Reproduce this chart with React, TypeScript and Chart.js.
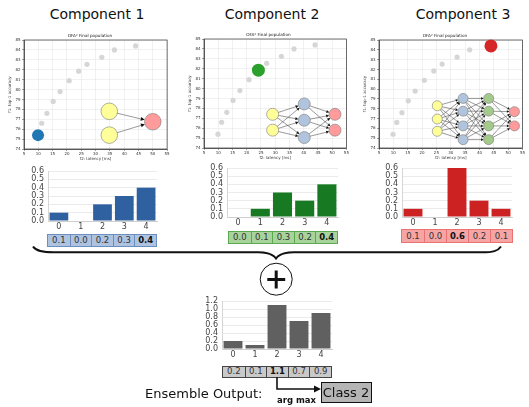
import React, { useEffect, useRef } from "react";
import { Chart, registerables } from "chart.js";

Chart.register(...registerables);

// ---------------- data ----------------
const componentNames = ["Component 1", "Component 2", "Component 3"];
const scatterTitle = "OFA² Final population";
const latencyTitle = "f2: latency [ms]";
const accuracyTitle = "f1: top-1 accuracy";

const populationLatency = [9.9, 11.2, 13.0, 15.2, 17.6, 20.8, 24.1, 27.0, 32.2, 36.6, 44.0];
const populationAccuracy = [75.4, 76.6, 77.6, 78.8, 79.8, 80.9, 81.85, 82.55, 83.25, 84.0, 84.4];
const selectedIndex = [0, 6, 10];

// network sketches drawn inside the scatter plots (x in latency units, y in accuracy units)
const net1LayerX = [34.8, 50.0];
const net1LayerY = [[77.8, 75.4], [76.75]];
const net2LayerX = [29.1, 40.2, 51.0];
const net2LayerY = [[77.4, 75.8], [78.45, 76.8, 75.05], [77.4, 75.8]];
const net3LayerX = [25.3, 34.3, 43.2, 52.2];
const net3LayerY = [
  [78.3, 76.95, 75.7],
  [79.05, 77.75, 76.25, 74.85],
  [79.05, 77.75, 76.25, 74.85],
  [77.7, 76.25],
];

const classLabels = ["0", "1", "2", "3", "4"];
const comp1Probs = [0.1, 0.0, 0.2, 0.3, 0.4];
const comp2Probs = [0.0, 0.1, 0.3, 0.2, 0.4];
const comp3Probs = [0.1, 0.0, 0.6, 0.2, 0.1];
const ensembleSums = [0.2, 0.1, 1.1, 0.7, 0.9];

const ensembleOutputLabel = "Ensemble Output:";
const argmaxLabel = "arg max";
const predictedClass = "Class 2";

// ---------------- styles ----------------
const FONT = "'DejaVu Sans', sans-serif";
Chart.defaults.font.family = FONT;

const highlightColors = ["#1f77b4", "#2ca02c", "#d62728"];
const YELLOW = "#ffff99";
const PINK = "#ff9b9b";
const NODE_BLUE = "#b0c4de";
const NODE_GREEN = "#a3c98b";
const net1Colors = [YELLOW, PINK];
const net2Colors = [YELLOW, NODE_BLUE, PINK];
const net3Colors = [YELLOW, NODE_BLUE, NODE_GREEN, PINK];

const barColors = ["#2f609f", "#177a23", "#cc2222", "#606060"];
const cellFill = ["#aec3e0", "#a8d49b", "#f6a5a5", "#c9c9c9"];
const cellBorder = ["#6c8ebf", "#5aa84f", "#ea7272", "#444444"];

type Area = { l: number; t: number; r: number; b: number };

const scatterAreas: Area[] = [
  { l: 24, t: 40, r: 172, b: 149 },
  { l: 204, t: 39, r: 349, b: 148 },
  { l: 379, t: 40, r: 527, b: 148 },
];
const nodeRadius = [8.3, 6, 5];
const highlightRadius = [6, 6.5, 6.5];
const arrowSize = [4, 3, 2.6];

const barAreas: Area[] = [
  { l: 48, t: 171, r: 157, b: 221 },
  { l: 227, t: 168, r: 338, b: 217 },
  { l: 402, t: 168, r: 512, b: 217 },
  { l: 222, t: 300.5, r: 332, b: 349.3 },
];
const tableBoxes = [
  { l: 47, t: 234, w: 110, h: 12.5 },
  { l: 228, t: 231, w: 110, h: 13.3 },
  { l: 401, t: 229.3, w: 112, h: 14 },
  { l: 222, t: 365.5, w: 110, h: 12 },
];

// ---------------- helpers ----------------
const fixWidth = (w: number) => (scale: any) => {
  scale.width = w;
  scale.paddingTop = 0;
  scale.paddingBottom = 0;
  scale.paddingLeft = 0;
  scale.paddingRight = 0;
};
const fixHeight = (h: number) => (scale: any) => {
  scale.height = h;
  scale.paddingTop = 0;
  scale.paddingBottom = 0;
  scale.paddingLeft = 0;
  scale.paddingRight = 0;
};

const framePlugin = {
  id: "frame",
  beforeDatasetsDraw(chart: any) {
    const { ctx, chartArea: a } = chart;
    ctx.save();
    ctx.strokeStyle = "#333";
    ctx.lineWidth = 0.7;
    ctx.strokeRect(a.left, a.top, a.right - a.left, a.bottom - a.top);
    ctx.restore();
  },
};

function networkEdges(layerX: number[], layerY: number[][], radius: number, arrow: number) {
  return {
    id: "netEdges",
    beforeDatasetsDraw(chart: any) {
      const { ctx } = chart;
      const xs = chart.scales.x;
      const ys = chart.scales.y;
      ctx.save();
      for (let i = 0; i < layerX.length - 1; i++) {
        for (const ya of layerY[i]) {
          for (const yb of layerY[i + 1]) {
            const x0 = xs.getPixelForValue(layerX[i]);
            const y0 = ys.getPixelForValue(ya);
            const x1 = xs.getPixelForValue(layerX[i + 1]);
            const y1 = ys.getPixelForValue(yb);
            const ang = Math.atan2(y1 - y0, x1 - x0);
            const c = Math.cos(ang);
            const s = Math.sin(ang);
            const tx = x1 - c * radius;
            const ty = y1 - s * radius;
            const bx = tx - c * arrow;
            const by = ty - s * arrow;
            ctx.strokeStyle = "#555";
            ctx.lineWidth = 0.6;
            ctx.beginPath();
            ctx.moveTo(x0, y0);
            ctx.lineTo(bx, by);
            ctx.stroke();
            const w = arrow * 0.5;
            ctx.fillStyle = "#111";
            ctx.beginPath();
            ctx.moveTo(tx, ty);
            ctx.lineTo(bx + s * w, by - c * w);
            ctx.lineTo(bx - s * w, by + c * w);
            ctx.closePath();
            ctx.fill();
          }
        }
      }
      ctx.restore();
    },
  };
}

// scatter geometry
const SC_ML = 16;
const SC_PT = 10;
const SC_MB = 12;
const SC_PB = 1;
const SC_TITLE_SIZE = 4.2;
const SC_TITLE_H = SC_TITLE_SIZE * 1.2 + 2;

function scatterBox(i: number) {
  const a = scatterAreas[i];
  const pr = i === 2 ? 2 : 4;
  return {
    left: a.l - SC_ML,
    top: a.t - SC_PT,
    width: SC_ML + (a.r - a.l) + pr,
    height: SC_PT + (a.b - a.t) + SC_MB + SC_PB,
    pr,
  };
}

function makeScatter(i: number, layerX: number[], layerY: number[][], colors: string[]) {
  const box = scatterBox(i);
  const sel = selectedIndex[i];
  const popPoints = populationLatency
    .map((x, k) => ({ x, y: populationAccuracy[k], k }))
    .filter((p) => p.k !== sel)
    .map((p) => ({ x: p.x, y: p.y }));
  const datasets: any[] = [
    {
      label: "selected",
      data: [{ x: populationLatency[sel], y: populationAccuracy[sel] }],
      pointRadius: highlightRadius[i],
      pointBackgroundColor: highlightColors[i],
      pointBorderWidth: 0,
      clip: false,
      order: 0,
    },
  ];
  layerX.forEach((lx, li) => {
    datasets.push({
      label: "layer" + li,
      data: layerY[li].map((y) => ({ x: lx, y })),
      pointRadius: nodeRadius[i],
      pointBackgroundColor: colors[li],
      pointBorderColor: "#7a7a7a",
      pointBorderWidth: 0.6,
      clip: false,
      order: 1,
    });
  });
  datasets.push({
    label: "population",
    data: popPoints,
    pointRadius: 2.6,
    pointBackgroundColor: "#d6d6d6",
    pointBorderWidth: 0,
    clip: false,
    order: 2,
  });
  const tickFont = { family: FONT, size: 4 };
  return {
    type: "scatter",
    data: { datasets },
    options: {
      responsive: false,
      animation: false,
      events: [],
      layout: { padding: { left: 0, top: SC_PT - SC_TITLE_H, right: box.pr, bottom: SC_PB } },
      plugins: {
        legend: { display: false },
        tooltip: { enabled: false },
        title: {
          display: true,
          text: scatterTitle,
          color: "#222",
          font: { family: FONT, size: SC_TITLE_SIZE, weight: "normal", lineHeight: 1.2 },
          padding: { top: 0, bottom: 2 },
        },
      },
      scales: {
        x: {
          type: "linear",
          min: 5,
          max: 55,
          ticks: { stepSize: 5, autoSkip: false, maxRotation: 0, font: tickFont, color: "#333", padding: 1 },
          grid: { color: "#e3e3e3", lineWidth: 0.5, tickLength: 2, tickColor: "#444", tickWidth: 0.5 },
          border: { color: "#333", width: 0.7 },
          title: { display: true, text: latencyTitle, color: "#333", font: tickFont, padding: { top: 0, bottom: 0 } },
          afterFit: fixHeight(SC_MB),
        },
        y: {
          type: "linear",
          min: 74,
          max: 85,
          ticks: { stepSize: 1, autoSkip: false, font: tickFont, color: "#333", padding: 1.5 },
          grid: { color: "#e3e3e3", lineWidth: 0.5, tickLength: 2, tickColor: "#444", tickWidth: 0.5 },
          border: { color: "#333", width: 0.7 },
          title: { display: true, text: accuracyTitle, color: "#333", font: tickFont, padding: { top: 0, bottom: 0 } },
          afterFit: fixWidth(SC_ML),
        },
      },
    },
    plugins: [framePlugin, networkEdges(layerX, layerY, nodeRadius[i], arrowSize[i])],
  };
}

// bar geometry
const BR_ML = 22;
const BR_PT = 5;
const BR_PR = 3;
const BR_MB = 12;
const BR_PB = 1;

function barBox(i: number) {
  const a = barAreas[i];
  return {
    left: a.l - BR_ML,
    top: a.t - BR_PT,
    width: BR_ML + (a.r - a.l) + BR_PR,
    height: BR_PT + (a.b - a.t) + BR_MB + BR_PB,
  };
}

function makeBar(i: number, values: number[], max: number, step: number) {
  const font = { family: FONT, size: 8 };
  return {
    type: "bar",
    data: {
      labels: classLabels,
      datasets: [
        {
          data: values,
          backgroundColor: barColors[i],
          borderWidth: 0,
          barPercentage: 0.86,
          categoryPercentage: 1,
        },
      ],
    },
    options: {
      responsive: false,
      animation: false,
      events: [],
      layout: { padding: { left: 0, top: BR_PT, right: BR_PR, bottom: BR_PB } },
      plugins: { legend: { display: false }, tooltip: { enabled: false } },
      scales: {
        x: {
          ticks: { font, color: "#444", padding: 1 },
          grid: {
            offset: true,
            drawTicks: false,
            color: (ctx: any) => (ctx.index === classLabels.length ? "#e2e2e2" : "rgba(0,0,0,0)"),
          },
          border: { color: "#cfcfcf", width: 1 },
          afterFit: fixHeight(BR_MB),
        },
        y: {
          min: 0,
          max,
          ticks: {
            stepSize: step,
            font,
            color: "#444",
            padding: 4,
            autoSkip: false,
            callback: (v: any) => Number(v).toFixed(1),
          },
          grid: { color: "#ebebeb", drawTicks: false },
          border: { color: "#d6d6d6", width: 1 },
          afterFit: fixWidth(BR_ML),
        },
      },
    },
  };
}

function ChartCanvas(props: { left: number; top: number; width: number; height: number; make: () => any }) {
  const ref = useRef<HTMLCanvasElement>(null);
  useEffect(() => {
    const chart = new Chart(ref.current as HTMLCanvasElement, props.make());
    return () => chart.destroy();
  }, []);
  return (
    <canvas
      ref={ref}
      width={props.width}
      height={props.height}
      style={{ position: "absolute", left: props.left, top: props.top, width: props.width, height: props.height }}
    />
  );
}

function ValueTable(props: { i: number; values: number[] }) {
  const box = tableBoxes[props.i];
  let best = 0;
  props.values.forEach((v, k) => {
    if (v > props.values[best]) best = k;
  });
  const cw = box.w / props.values.length;
  return (
    <div
      style={{
        position: "absolute",
        left: box.l,
        top: box.t,
        width: box.w,
        height: box.h,
        boxSizing: "border-box",
        border: `1px solid ${cellBorder[props.i]}`,
        background: cellFill[props.i],
        display: "flex",
      }}
    >
      {props.values.map((v, k) => (
        <div
          key={k}
          style={{
            width: cw,
            height: "100%",
            boxSizing: "border-box",
            borderLeft: k === 0 ? "none" : `1px solid ${cellBorder[props.i]}`,
            display: "flex",
            alignItems: "center",
            justifyContent: "center",
            fontSize: 8.5,
            fontWeight: k === best ? "bold" : "normal",
            color: k === best ? "#111" : "#333",
            lineHeight: 1,
          }}
        >
          {v.toFixed(1)}
        </div>
      ))}
    </div>
  );
}

export default function App() {
  const titleCenters = [97, 272, 463];
  const nets = [
    { x: net1LayerX, y: net1LayerY, c: net1Colors },
    { x: net2LayerX, y: net2LayerY, c: net2Colors },
    { x: net3LayerX, y: net3LayerY, c: net3Colors },
  ];
  const barSpecs = [
    { v: comp1Probs, max: 0.6, step: 0.1 },
    { v: comp2Probs, max: 0.6, step: 0.1 },
    { v: comp3Probs, max: 0.6, step: 0.1 },
    { v: ensembleSums, max: 1.2, step: 0.2 },
  ];
  return (
    <div
      style={{
        position: "absolute",
        left: 0,
        top: 0,
        width: 529,
        height: 407,
        overflow: "hidden",
        background: "#ffffff",
        fontFamily: FONT,
      }}
    >
      {componentNames.map((name, i) => (
        <div
          key={name}
          style={{
            position: "absolute",
            left: titleCenters[i] - 80,
            width: 160,
            top: 7,
            textAlign: "center",
            fontSize: 14,
            lineHeight: "14px",
            color: "#111",
            whiteSpace: "nowrap",
          }}
        >
          {name}
        </div>
      ))}

      {nets.map((n, i) => {
        const b = scatterBox(i);
        return (
          <ChartCanvas
            key={"s" + i}
            left={b.left}
            top={b.top}
            width={b.width}
            height={b.height}
            make={() => makeScatter(i, n.x, n.y, n.c)}
          />
        );
      })}

      {barSpecs.map((s, i) => {
        const b = barBox(i);
        return (
          <ChartCanvas
            key={"b" + i}
            left={b.left}
            top={b.top}
            width={b.width}
            height={b.height}
            make={() => makeBar(i, s.v, s.max, s.step)}
          />
        );
      })}

      {barSpecs.map((s, i) => (
        <ValueTable key={"t" + i} i={i} values={s.v} />
      ))}

      <svg
        width={529}
        height={407}
        style={{ position: "absolute", left: 0, top: 0, pointerEvents: "none" }}
      >
        <path
          d="M 33 246.5 C 36 251, 42 252.3, 54 252.3 L 258 252.3 C 268 252.3, 273 254, 276 258.5 C 279 254, 284 252.3, 294 252.3 L 482 252.3 C 493 252.3, 498 251, 501 246.5"
          fill="none"
          stroke="#111"
          strokeWidth={2}
        />
        <circle cx={276.2} cy={279.2} r={16} fill="#fff" stroke="#111" strokeWidth={1} />
        <path d="M 267.3 279.5 H 285.2 M 276.2 270.6 V 288.4" stroke="#111" strokeWidth={3} />
        <path d="M 277 377 V 389 H 315" fill="none" stroke="#111" strokeWidth={1.6} />
        <path d="M 321 389 L 314 385.5 L 314 392.5 Z" fill="#111" />
      </svg>

      <div
        style={{
          position: "absolute",
          left: 145,
          top: 393 - 13 * 0.48,
          fontSize: 13,
          lineHeight: "13px",
          color: "#111",
          whiteSpace: "nowrap",
        }}
      >
        {ensembleOutputLabel}
      </div>
      <div
        style={{
          position: "absolute",
          left: 277,
          top: 400 - 8.5 * 0.48,
          fontSize: 8.5,
          lineHeight: "8.5px",
          fontWeight: "bold",
          color: "#111",
          whiteSpace: "nowrap",
        }}
      >
        {argmaxLabel}
      </div>
      <div
        style={{
          position: "absolute",
          left: 320.5,
          top: 381.5,
          width: 51,
          height: 21,
          boxSizing: "border-box",
          border: "1.5px solid #111",
          background: "#b5b5b5",
          display: "flex",
          alignItems: "center",
          justifyContent: "center",
          fontSize: 13,
          lineHeight: 1,
          color: "#111",
          whiteSpace: "nowrap",
        }}
      >
        {predictedClass}
      </div>
    </div>
  );
}
